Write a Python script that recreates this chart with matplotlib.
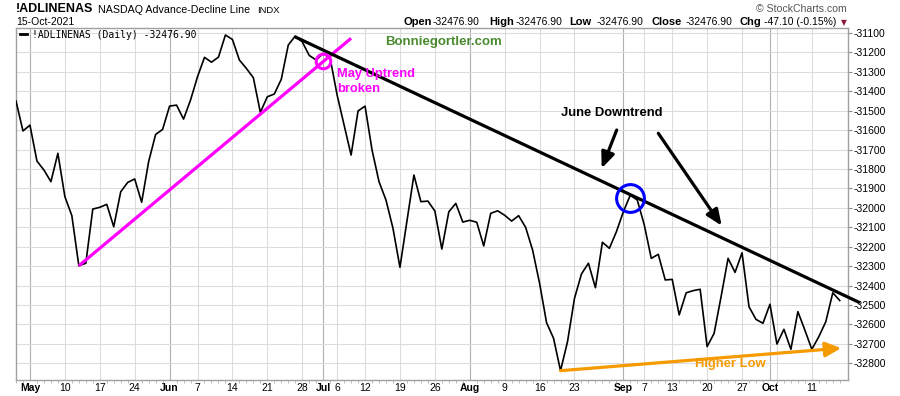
import numpy as np
import pandas as pd
import matplotlib
matplotlib.use("Agg")
import matplotlib.pyplot as plt
from matplotlib.lines import Line2D

# ---------------- data ----------------
start_date = "2021-04-29"
end_date = "2021-10-15"
holidays = ["2021-05-31", "2021-07-05", "2021-09-06"]

ad_values = [
    -31450, -31604,                                   # Apr 29-30
    -31574, -31759, -31805, -31865, -31719,           # May 3-7
    -31942, -32040, -32298, -32285, -32006,           # May 10-14
    -31997, -31982, -32097, -31917, -31869,           # May 17-21
    -31851, -31971, -31762, -31622, -31596,           # May 24-28
    -31476, -31471, -31543, -31445,                   # Jun 1-4
    -31325, -31225, -31250, -31224, -31110,           # Jun 7-11
    -31133, -31239, -31282, -31330, -31508,           # Jun 14-18
    -31428, -31414, -31338, -31162, -31115,           # Jun 21-25
    -31145, -31215, -31239, -31205, -31230,           # Jun 28 - Jul 2
    -31419, -31574, -31728, -31501,                   # Jul 6-9
    -31476, -31702, -31865, -31960, -32105,           # Jul 12-16
    -32306, -32068, -31831, -31968, -31965,           # Jul 19-23
    -32016, -32212, -32020, -31977, -32073,           # Jul 26-30
    -32064, -32074, -32196, -32028, -32015,           # Aug 2-6
    -32038, -32068, -32040, -32100, -32217,           # Aug 9-13
    -32388, -32591, -32671, -32838, -32689,           # Aug 16-20
    -32466, -32340, -32285, -32411, -32177,           # Aug 23-27
    -32208, -32123, -32020, -31934, -31960,           # Aug 30 - Sep 3
    -32088, -32260, -32239, -32371,                   # Sep 7-10
    -32368, -32551, -32437, -32426, -32419,           # Sep 13-17
    -32714, -32646, -32457, -32260, -32332,           # Sep 20-24
    -32231, -32509, -32574, -32594, -32496,           # Sep 27 - Oct 1
    -32701, -32625, -32728, -32534, -32629,           # Oct 4-8
    -32728, -32663, -32586, -32437, -32477,           # Oct 11-15
]

tick_dates = ["2021-05-03", "2021-05-10", "2021-05-17", "2021-05-24",
              "2021-06-01", "2021-06-07", "2021-06-14", "2021-06-21", "2021-06-28",
              "2021-07-01", "2021-07-06", "2021-07-12", "2021-07-19", "2021-07-26",
              "2021-08-02", "2021-08-09", "2021-08-16", "2021-08-23",
              "2021-09-01", "2021-09-07", "2021-09-13", "2021-09-20", "2021-09-27",
              "2021-10-01", "2021-10-11"]
tick_labels = ["May", "10", "17", "24", "Jun", "7", "14", "21", "28",
               "Jul", "6", "12", "19", "26", "Aug", "9", "16", "23",
               "Sep", "7", "13", "20", "27", "Oct", "11"]
month_labels = ["May", "Jun", "Jul", "Aug", "Sep", "Oct"]
extra_grid_dates = ["2021-10-04"]

y_ticks = list(range(-32800, -31099, 100))

uptrend_dates = ["2021-05-12", "2021-07-08"]
uptrend_values = [-32298, -31127]
downtrend_dates = ["2021-06-25", "2021-09-02"]
downtrend_values = [-31120, -31932]
higherlow_dates = ["2021-08-19", "2021-10-15"]
higherlow_values = [-32838, -32722]
blue_circle = ("2021-09-02", -31948)
pink_circle = ("2021-07-01", -31244)

# ---------------- helpers ----------------
dates = pd.bdate_range(start_date, end_date)
dates = dates[~dates.isin(pd.to_datetime(holidays))]
idx_of = {d.strftime("%Y-%m-%d"): i for i, d in enumerate(dates)}
xs = np.arange(len(dates))

W, H = 900, 396
fig = plt.figure(figsize=(W / 100, H / 100), dpi=100)
fig.patch.set_facecolor("white")
ax = fig.add_axes([16 / W, 16 / H, 832 / W, 352 / H])

FONT = "Liberation Sans"

def fpx(x, y):
    return (x / W, 1 - y / H)

# x / y limits
ax.set_xlim(0.24, 119.18)
ax.set_ylim(-32886, -31074)

# grid
ax.set_yticks(y_ticks)
ax.set_yticklabels([str(v) for v in y_ticks], fontsize=7.5, family=FONT)
ax.yaxis.tick_right()
ax.grid(axis="y", color="#dcdcdc", lw=0.8, zorder=0)
for d, lab in zip(tick_dates, tick_labels):
    col = "#b0b0b0" if lab in month_labels else "#dcdcdc"
    ax.axvline(idx_of[d], color=col, lw=0.8, zorder=0)
for d in extra_grid_dates:
    ax.axvline(idx_of[d], color="#dcdcdc", lw=0.8, zorder=0)

ax.set_xticks([idx_of[d] for d in tick_dates])
ax.set_xticklabels(tick_labels, fontsize=7.5, family=FONT)
for t in ax.get_xticklabels():
    if t.get_text() in month_labels:
        t.set_fontweight("bold")
ax.set_xticks(xs, minor=True)
ax.tick_params(axis="x", which="major", length=0, pad=2)
ax.tick_params(axis="x", which="minor", length=2, color="#b0b0b0")
ax.tick_params(axis="y", length=3, pad=1, color="#888888")

for s in ax.spines.values():
    s.set_color("#a0a0a0")
    s.set_linewidth(1)

# series
ax.plot(xs, ad_values, color="black", lw=1.2, zorder=3)

# uptrend (magenta)
ax.plot([idx_of[d] for d in uptrend_dates], uptrend_values,
        color="#ff00ff", lw=2.3, solid_capstyle="butt", zorder=4)
ax.plot(idx_of[pink_circle[0]], pink_circle[1], "o", ms=10.5, mfc="none",
        mec="#ff00ff", mew=2.2, zorder=5)

# downtrend (black), extended to just beyond the right edge
dx = [idx_of[d] for d in downtrend_dates]
slope = (downtrend_values[1] - downtrend_values[0]) / (dx[1] - dx[0])
x_end = 120.9
ax.plot([dx[0], x_end], [downtrend_values[0], downtrend_values[0] + slope * (x_end - dx[0])],
        color="black", lw=2.3, solid_capstyle="butt", zorder=4, clip_on=False)
ax.plot(idx_of[blue_circle[0]], blue_circle[1], "o", ms=20, mfc="none",
        mec="#0000ff", mew=2.2, zorder=5)

# higher low (orange arrow)
orange = "#f59a00"
ax.annotate("", xy=(idx_of[higherlow_dates[1]] + 0.2, higherlow_values[1]),
            xytext=(idx_of[higherlow_dates[0]], higherlow_values[0]),
            arrowprops=dict(arrowstyle="-|>,head_length=0.95,head_width=0.45",
                            color=orange, lw=2.3, shrinkA=0, shrinkB=0,
                            mutation_scale=10), zorder=4)

# black annotation arrows (figure pixels)
for (x0, y0), (x1, y1) in [((616.7, 130), (601.7, 168.3)),
                           ((658.3, 133.3), (721.7, 225.7))]:
    ax.annotate("", xy=(x1, H - y1), xytext=(x0, H - y0),
                xycoords="figure pixels", textcoords="figure pixels",
                arrowprops=dict(arrowstyle="-|>,head_length=0.95,head_width=0.4",
                                color="black", lw=2.3, shrinkA=0, shrinkB=0,
                                mutation_scale=10), zorder=6)

# annotation texts
fig.text(*fpx(444, 42), "Bonniegortler.com", color="#4a8a2e", fontsize=9.5,
         fontweight="bold", family=FONT, ha="center", va="center")
fig.text(*fpx(336.7, 74.5), "May Uptrend", color="#ff00ff", fontsize=9.3,
         fontweight="bold", family=FONT, ha="left", va="center")
fig.text(*fpx(336.7, 88.5), "broken", color="#ff00ff", fontsize=9.3,
         fontweight="bold", family=FONT, ha="left", va="center")
fig.text(*fpx(612, 113), "June Downtrend", color="black", fontsize=9.4,
         fontweight="bold", family=FONT, ha="center", va="center")
fig.text(*fpx(730, 364), "Higher Low", color=orange, fontsize=9.4,
         fontweight="bold", family=FONT, ha="center", va="center")

# legend inside axes
fig.add_artist(Line2D([20 / W, 26.7 / W], [1 - 34 / H, 1 - 34 / H], color="black", lw=2))
fig.text(*fpx(32.3, 34.5), "!ADLINENAS (Daily) -32476.90", fontsize=7.05,
         family="DejaVu Sans Mono", ha="left", va="center", color="black")

# header
fig.text(*fpx(16, 9.5), "!ADLINENAS", fontsize=9, fontweight="bold", family=FONT,
         ha="left", va="center")
fig.text(*fpx(98.3, 9.8), "NASDAQ Advance-Decline Line", fontsize=7.7, family=FONT,
         ha="left", va="center")
fig.text(*fpx(256.7, 10.2), "INDX", fontsize=6.8, family=FONT, ha="left", va="center")
fig.text(*fpx(16, 22.2), "15-Oct-2021", fontsize=7.5, family=FONT, ha="left", va="center")
fig.text(*fpx(847, 8.5), "\u00a9 StockCharts.com", fontsize=7.6, family=FONT,
         ha="right", va="center", color="#555555")

hdr = [(403, "Open", True), (433, "-32476.90", False),
       (489, "High", True), (516, "-32476.90", False),
       (569, "Low", True), (597, "-32476.90", False),
       (651, "Close", True), (686, "-32476.90", False),
       (739, "Chg", True), (764, "-47.10 (-0.15%)", False)]
for x, s, b in hdr:
    fig.text(*fpx(x, 22.2), s, fontsize=8 if b else 7.5,
             fontweight="bold" if b else "normal", family=FONT, ha="left", va="center")
fig.text(*fpx(843.5, 22.5), "\u25bc", fontsize=5.5, family="DejaVu Sans", color="#8b1a3a",
         ha="center", va="center")

fig.savefig("out.png", dpi=100)
